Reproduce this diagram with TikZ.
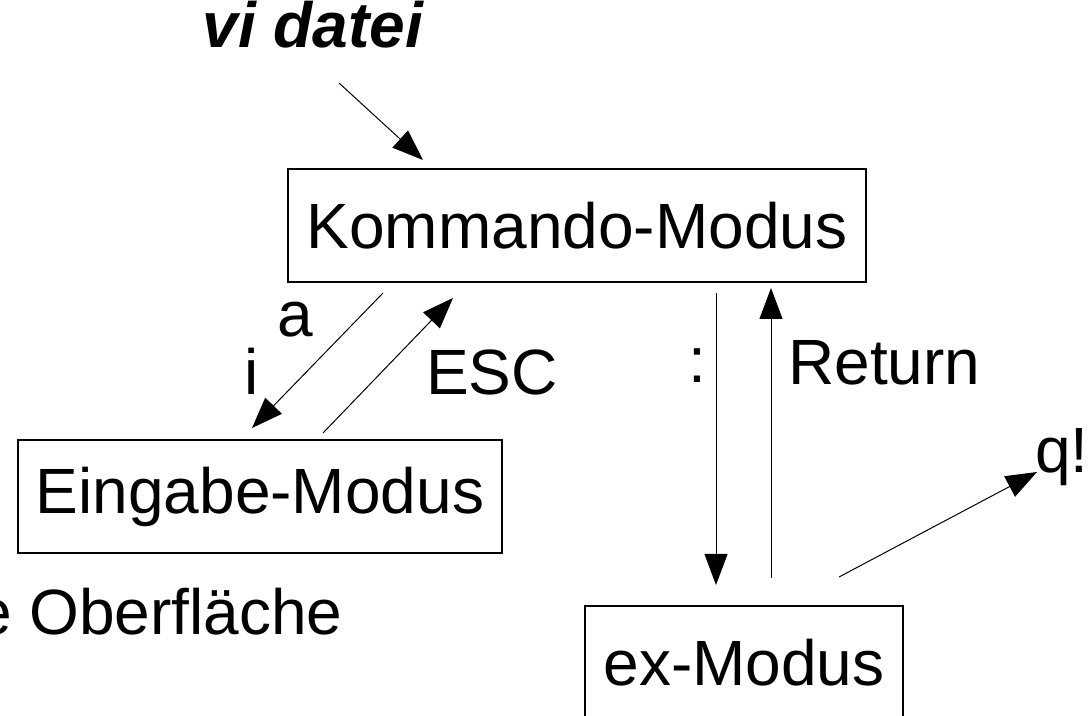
\documentclass[tikz,border=0pt]{standalone}
\usepackage{fontspec}
\setmainfont{Liberation Sans}
\usetikzlibrary{arrows.meta, positioning}

\begin{document}
\begin{tikzpicture}[x=0.5pt, y=-0.5pt,
                mode/.style = {
                    rectangle,
                    draw=black,
                    line width=0.7pt, inner sep=0pt,
                    minimum height=56.5pt, text centered,
                    font=\fontsize{32}{38}\selectfont
                },
                lbl/.style = {
                    inner sep=0pt, anchor=base,
                    font=\fontsize{32}{38}\selectfont
                },
                arrow/.style = {
                    draw, line width=0.5pt,
                    -{Triangle[length=15.5pt, width=11.5pt]}
                }
                ]
                \useasboundingbox (0,0) rectangle (1088,716);

                \node[mode, minimum width=289pt] (kommando) at (577,225.5) {Kommando-Modus};
                \node[mode, minimum width=242pt] (eingabe) at (260,496.5) {Eingabe-Modus};
                \node[mode, minimum width=159pt] (ex) at (744,662.5) {ex-Modus};

                \node[lbl, font=\fontsize{32}{38}\selectfont\bfseries\itshape] (vi) at (313,48) {vi datei};
                \node[lbl] (a) at (295,337) {a};
                \node[lbl] (i) at (252,395) {i};
                \node[lbl] (esc) at (492,395) {ESC};
                \node[lbl] (colon) at (697,383) {:};
                \node[lbl, anchor=base west] (return) at (788,385) {Return};
                \node[lbl, anchor=base west] (quit) at (1035,473) {q!};
                \node[lbl, anchor=base east] (gui) at (343,635) {e Oberfläche};

                % free ends of the connectors
                \coordinate (viA) at (339,83);
                \coordinate (viB) at (423,160);
                \coordinate (insA) at (383,293);
                \coordinate (insB) at (252,428);
                \coordinate (escA) at (323,433);
                \coordinate (escB) at (453,298);
                \coordinate (colA) at (716,293);
                \coordinate (colB) at (716,585);
                \coordinate (retA) at (771,578);
                \coordinate (retB) at (771,288);
                \coordinate (qA) at (839,577);
                \coordinate (qB) at (1037,472);

                \path[arrow] (viA)--(viB);
                \path[arrow] (insA)--(insB);
                \path[arrow] (escA)--(escB);
                \path[arrow] (colA)--(colB);
                \path[arrow] (retA)--(retB);
                \path[arrow] (qA)--(qB);
            \end{tikzpicture}
\end{document}
